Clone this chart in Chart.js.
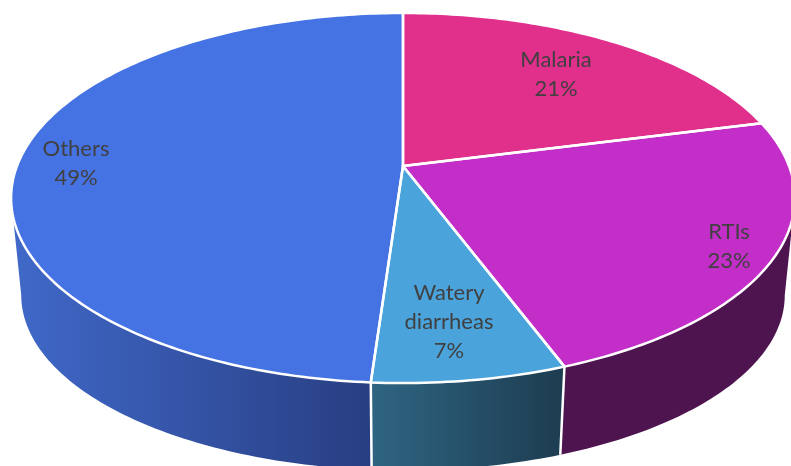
<!DOCTYPE html>
<html>
<head>
<meta charset="utf-8">
<style>
  html, body { margin: 0; padding: 0; background: #ffffff; overflow: hidden; }
  canvas { display: block; }
</style>
</head>
<body>
<canvas id="myChart" width="791" height="466"></canvas>
<script src="https://cdn.jsdelivr.net/npm/chart.js@4/dist/chart.umd.min.js"></script>
<script>
const categories = ["Malaria", "RTIs", "Watery diarrheas", "Others"];
const shares = [21, 23.3, 6.8, 48.9];

const labelLines = [["Malaria"], ["RTIs"], ["Watery", "diarrheas"], ["Others"]];
const labelCentres = [[556, 74], [729, 246], [449, 322], [76, 163]];

const topColors = ["#e12f8c", "#c32ec8", "#4aa3db", "#4673e3"];
const wallLeftColors = ["#7a1a4c", "#4e1450", "#2f6582", "#4069c9"];
const wallRightColors = ["#7a1a4c", "#4e1450", "#1d3c50", "#283e82"];

// the pie is tilted, so the top and bottom discs are perspective projections of a circle
const topDisc = { x: 403, y: 166, a: 386, b: 179.5 };
const bottomDisc = { x: 403, y: 265, a: 376, b: 169.8 };
const tilt = -0.173;

function project(disc, angle) {
  let u = Math.cos(angle);
  let v = Math.sin(angle);
  let w = 1 + tilt * v;
  return [disc.x + (disc.a * u) / w, disc.y + (disc.b * v) / w];
}

function traceArc(ctx, disc, from, to) {
  let steps = Math.max(2, Math.ceil(Math.abs(to - from) * 60));
  for (let i = 0; i <= steps; i++) {
    let p = project(disc, from + ((to - from) * i) / steps);
    ctx.lineTo(p[0], p[1]);
  }
}

function drawWalls(ctx, arcs) {
  // the wall is only seen between the left and right extremes of the discs
  const lo = Math.asin(-tilt);
  const hi = Math.PI - lo;
  arcs.forEach((arc, i) => {
    let from = Math.max(arc.startAngle, lo);
    let to = Math.min(arc.endAngle, hi);
    if (to <= from) return;

    let startX = project(topDisc, to)[0];
    let endX = project(topDisc, from)[0];
    let gradient = ctx.createLinearGradient(startX, 0, endX, 0);
    gradient.addColorStop(0, wallLeftColors[i]);
    gradient.addColorStop(1, wallRightColors[i]);

    ctx.beginPath();
    traceArc(ctx, topDisc, from, to);
    traceArc(ctx, bottomDisc, to, from);
    ctx.closePath();
    ctx.fillStyle = gradient;
    ctx.fill();
  });

  // white dividers where two slices meet on the front of the wall
  arcs.forEach((arc) => {
    let angle = arc.endAngle;
    if (angle < lo || angle > hi) return;
    let a = project(topDisc, angle);
    let b = project(bottomDisc, angle);
    ctx.beginPath();
    ctx.moveTo(a[0], a[1]);
    ctx.lineTo(b[0], b[1]);
    ctx.strokeStyle = "#ffffff";
    ctx.lineWidth = 2.5;
    ctx.stroke();
  });
}

function drawTop(ctx, arcs) {
  arcs.forEach((arc, i) => {
    ctx.beginPath();
    ctx.moveTo(topDisc.x, topDisc.y);
    traceArc(ctx, topDisc, arc.startAngle, arc.endAngle);
    ctx.closePath();
    ctx.fillStyle = topColors[i];
    ctx.fill();
  });
  arcs.forEach((arc) => {
    ctx.beginPath();
    ctx.moveTo(topDisc.x, topDisc.y);
    traceArc(ctx, topDisc, arc.startAngle, arc.endAngle);
    ctx.closePath();
    ctx.strokeStyle = "#ffffff";
    ctx.lineWidth = 2.5;
    ctx.lineJoin = "round";
    ctx.stroke();
  });
}

function drawLabels(ctx) {
  const lineHeight = 29;
  ctx.font = '22px Lato, "Open Sans", sans-serif';
  ctx.fillStyle = "#404040";
  ctx.textAlign = "center";
  ctx.textBaseline = "middle";
  labelLines.forEach((lines, i) => {
    let rows = lines.concat(Math.round(shares[i]) + "%");
    let y = labelCentres[i][1] - ((rows.length - 1) * lineHeight) / 2;
    rows.forEach((row, r) => {
      ctx.fillText(row, labelCentres[i][0], y + r * lineHeight);
    });
  });
}

const tiltedPie = {
  id: "tiltedPie",
  beforeDatasetsDraw(chart) {
    let ctx = chart.ctx;
    let arcs = chart.getDatasetMeta(0).data;
    ctx.save();
    drawWalls(ctx, arcs);
    drawTop(ctx, arcs);
    drawLabels(ctx);
    ctx.restore();
    return false;
  },
};

const ctx = document.getElementById("myChart");
const chart = new Chart(ctx, {
  type: "pie",
  data: {
    labels: categories,
    datasets: [
      {
        data: shares,
        backgroundColor: topColors,
        borderColor: "#ffffff",
        borderWidth: 2,
      },
    ],
  },
  options: {
    responsive: false,
    animation: false,
    plugins: {
      legend: {
        display: false,
      },
      tooltip: {
        enabled: false,
      },
    },
  },
  plugins: [tiltedPie],
});
</script>
</body>
</html>
